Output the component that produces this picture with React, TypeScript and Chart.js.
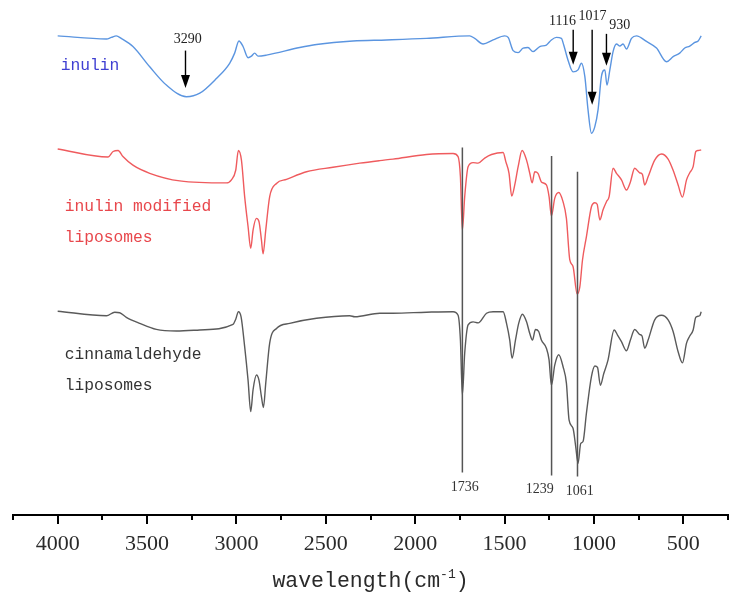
import React, { useEffect, useRef } from 'react';
import { Chart, registerables } from 'chart.js';

Chart.register(...registerables);

// ---- spectra (wavenumber in cm-1, transmittance in arbitrary offset units) ----
const INULIN_X = [4000, 3727, 3700, 3672, 3644, 3579, 3485, 3392, 3280, 3205, 3112, 3038, 3010, 2986, 2963, 2935, 2916, 2898, 2879, 2832, 2646, 2552, 2348, 2161, 1937, 1695, 1667, 1620, 1564, 1499, 1480, 1452, 1424, 1396, 1369, 1341, 1303, 1266, 1238, 1210, 1182, 1169, 1145, 1117, 1089, 1070, 1051, 1033, 1014, 995, 977, 958, 939, 927, 911, 893, 874, 855, 837, 818, 790, 762, 706, 650, 594, 557, 520, 492, 464, 436, 417, 400];
const INULIN_Y = [94.5, 93.9, 94.2, 94.5, 94.0, 92.4, 88.4, 84.8, 82.5, 83.2, 86.1, 89.1, 91.1, 93.5, 92.4, 90.2, 90.5, 91.1, 90.5, 90.7, 92.2, 92.8, 93.5, 93.7, 94.0, 94.5, 94.0, 92.9, 93.7, 94.5, 94.2, 91.6, 91.2, 92.1, 92.2, 91.4, 92.4, 92.7, 93.7, 94.2, 94.0, 92.7, 89.7, 87.4, 87.8, 89.1, 86.5, 79.9, 75.3, 76.6, 79.9, 86.5, 87.8, 84.8, 87.8, 91.4, 92.9, 92.5, 92.9, 91.9, 94.0, 94.5, 93.4, 92.1, 89.4, 90.4, 91.1, 92.1, 92.5, 93.2, 93.5, 94.5];

const MODIFIED_X = [4000, 3718, 3690, 3662, 3635, 3579, 3485, 3317, 3056, 3028, 3004, 2989, 2972, 2954, 2935, 2920, 2907, 2888, 2874, 2860, 2851, 2836, 2814, 2776, 2720, 2608, 2460, 2310, 2198, 2124, 1937, 1788, 1760, 1747, 1736, 1723, 1704, 1676, 1648, 1611, 1573, 1508, 1493, 1475, 1460, 1443, 1424, 1402, 1377, 1359, 1346, 1331, 1313, 1294, 1266, 1251, 1238, 1219, 1197, 1173, 1154, 1135, 1117, 1094, 1079, 1064, 1042, 1014, 995, 982, 967, 949, 930, 915, 893, 874, 846, 818, 796, 772, 744, 729, 716, 697, 660, 622, 585, 557, 529, 505, 482, 464, 445, 430, 417, 400];
const MODIFIED_Y = [72.2, 70.6, 71.7, 71.9, 70.7, 69.0, 67.4, 65.9, 65.5, 66.1, 68.0, 71.9, 70.0, 62.8, 56.9, 52.6, 56.2, 58.5, 57.9, 54.2, 51.5, 56.2, 62.8, 65.4, 66.2, 67.7, 68.6, 69.4, 69.9, 70.2, 71.1, 71.3, 70.7, 66.7, 56.2, 62.8, 68.7, 69.5, 69.4, 70.4, 71.1, 71.5, 69.7, 67.4, 62.9, 65.1, 68.7, 71.9, 70.0, 67.4, 65.5, 67.7, 67.4, 65.7, 65.1, 62.8, 59.0, 62.5, 63.6, 61.8, 58.5, 50.3, 49.0, 43.6, 45.0, 50.3, 54.9, 60.8, 61.6, 61.3, 58.2, 60.2, 61.8, 62.8, 68.4, 67.4, 66.1, 64.1, 65.7, 68.4, 67.5, 67.2, 65.1, 66.7, 70.0, 71.2, 70.2, 68.0, 65.1, 62.7, 66.1, 67.5, 68.7, 71.7, 71.9, 72.0];

const CINNAMALDEHYDE_X = [4000, 3727, 3681, 3653, 3616, 3541, 3448, 3336, 3205, 3019, 3004, 2989, 2974, 2954, 2935, 2920, 2907, 2888, 2874, 2860, 2849, 2836, 2814, 2776, 2702, 2552, 2366, 2338, 2198, 2124, 1937, 1788, 1760, 1747, 1736, 1723, 1704, 1676, 1648, 1601, 1564, 1508, 1489, 1471, 1458, 1439, 1421, 1400, 1377, 1359, 1344, 1327, 1309, 1294, 1266, 1251, 1238, 1219, 1197, 1173, 1154, 1139, 1117, 1102, 1089, 1074, 1061, 1042, 1014, 995, 980, 964, 945, 921, 887, 868, 846, 818, 796, 772, 744, 731, 716, 697, 660, 622, 585, 557, 529, 505, 482, 464, 445, 430, 408, 400];
const CINNAMALDEHYDE_Y = [40.2, 39.3, 40.0, 39.9, 39.0, 37.8, 36.6, 36.3, 36.5, 37.6, 38.6, 40.1, 39.1, 33.2, 26.6, 20.4, 24.7, 27.6, 26.6, 23.3, 21.2, 26.0, 33.9, 36.8, 37.8, 38.8, 39.3, 39.1, 39.8, 39.8, 40.0, 40.1, 39.4, 34.5, 23.7, 31.9, 37.5, 38.1, 37.9, 39.8, 40.1, 40.1, 37.8, 34.5, 30.9, 34.5, 37.8, 39.6, 38.1, 35.8, 34.5, 36.6, 36.2, 34.5, 32.9, 30.6, 25.6, 29.6, 31.6, 29.3, 26.0, 18.7, 17.1, 13.5, 10.2, 14.1, 14.5, 20.1, 27.3, 29.4, 29.1, 25.6, 27.9, 30.6, 36.5, 35.5, 34.2, 32.4, 34.5, 36.6, 35.6, 35.3, 32.9, 34.5, 38.5, 39.4, 38.5, 36.2, 32.2, 30.0, 33.9, 35.3, 36.5, 39.0, 39.3, 40.1];

// ---- axis ----
const X_MIN = 250;
const X_MAX = 4250;
const X_STEP = 250;
const X_LABEL_STEP = 500;
const AXIS_TITLE = 'wavelength(cm';
const AXIS_TITLE_SUP = '-1';
const AXIS_TITLE_END = ')';

// ---- series labels ----
const SERIES_COLORS = ['#5b95e0', '#ef5b5e', '#5a5a5a'];
const SERIES_TEXT_COLORS = ['#3f3fd2', '#e8474c', '#333333'];
const SERIES_LABEL_LINES = [['inulin'], ['inulin modified', 'liposomes'], ['cinnamaldehyde', 'liposomes']];
const SERIES_LABEL_X = [3983, 3961, 3961];
const SERIES_LABEL_Y = [[88.6], [60.9, 54.6], [31.6, 25.6]];

// ---- arrow annotations (inulin peaks) ----
const ARROW_LABELS = ['3290', '1116', '1017', '930'];
const ARROW_X = [3285, 1116, 1010, 930];
const ARROW_TOP = [91.6, 95.7, 95.7, 94.9];
const ARROW_TIP = [84.2, 88.8, 80.9, 88.6];
const ARROW_LABEL_X = [3273, 1176, 1008, 855];
const ARROW_LABEL_Y = [93.9, 97.3, 98.4, 96.6];

// ---- vertical peak lines ----
const PEAK_LINE_LABELS = ['1736', '1239', '1061'];
const PEAK_LINE_X = [1736, 1237, 1092];
const PEAK_LINE_TOP = [72.5, 70.8, 67.7];
const PEAK_LINE_BOTTOM = [8.4, 7.8, 7.6];
const PEAK_LABEL_X = [1723, 1303, 1079];
const PEAK_LABEL_Y = [5.4, 5.1, 4.7];

const MONO = "'Liberation Mono', 'DejaVu Sans Mono', monospace";
const SERIF = "'Liberation Serif', 'DejaVu Serif', serif";

const toPoints = (xs: number[], ys: number[]) => xs.map((x, i) => ({ x, y: ys[i] }));

const annotationPlugin = {
  id: 'ftirAnnotations',
  afterDraw(chart: any) {
    const ctx = chart.ctx;
    const xs = chart.scales.x;
    const ys = chart.scales.y;
    const area = chart.chartArea;
    ctx.save();

    // major (8px) and minor (5px) ticks
    ctx.strokeStyle = '#000';
    ctx.lineWidth = 2;
    for (let v = X_MIN; v <= X_MAX; v += X_STEP) {
      const major = v % X_LABEL_STEP === 0;
      const px = Math.round(xs.getPixelForValue(v));
      ctx.beginPath();
      ctx.moveTo(px, area.bottom);
      ctx.lineTo(px, area.bottom + (major ? 9 : 5));
      ctx.stroke();
    }

    // axis title with superscript
    ctx.fillStyle = '#2a2a2a';
    ctx.textBaseline = 'alphabetic';
    ctx.textAlign = 'left';
    const mainFont = `21.5px ${MONO}`;
    const supFont = `13px ${MONO}`;
    ctx.font = mainFont;
    const w1 = ctx.measureText(AXIS_TITLE).width;
    const w3 = ctx.measureText(AXIS_TITLE_END).width;
    ctx.font = supFont;
    const w2 = ctx.measureText(AXIS_TITLE_SUP).width;
    const total = w1 + w2 + w3;
    const cx = (area.left + area.right) / 2;
    const base = area.bottom + 72;
    let tx = cx - total / 2;
    ctx.font = mainFont;
    ctx.fillText(AXIS_TITLE, tx, base);
    tx += w1;
    ctx.font = supFont;
    ctx.fillText(AXIS_TITLE_SUP, tx, base - 9);
    tx += w2;
    ctx.font = mainFont;
    ctx.fillText(AXIS_TITLE_END, tx, base);

    // series labels
    ctx.font = `16.3px ${MONO}`;
    ctx.textBaseline = 'middle';
    ctx.textAlign = 'left';
    SERIES_LABEL_LINES.forEach((lines, i) => {
      ctx.fillStyle = SERIES_TEXT_COLORS[i];
      lines.forEach((t, j) => {
        ctx.fillText(t, xs.getPixelForValue(SERIES_LABEL_X[i]), ys.getPixelForValue(SERIES_LABEL_Y[i][j]));
      });
    });

    // vertical peak lines
    ctx.strokeStyle = '#555';
    ctx.lineWidth = 1.5;
    PEAK_LINE_X.forEach((v, i) => {
      const px = xs.getPixelForValue(v);
      ctx.beginPath();
      ctx.moveTo(px, ys.getPixelForValue(PEAK_LINE_TOP[i]));
      ctx.lineTo(px, ys.getPixelForValue(PEAK_LINE_BOTTOM[i]));
      ctx.stroke();
    });
    ctx.font = `14px ${SERIF}`;
    ctx.fillStyle = '#333';
    ctx.textAlign = 'center';
    PEAK_LINE_LABELS.forEach((t, i) => {
      ctx.fillText(t, xs.getPixelForValue(PEAK_LABEL_X[i]), ys.getPixelForValue(PEAK_LABEL_Y[i]));
    });

    // arrows
    ctx.strokeStyle = '#000';
    ctx.fillStyle = '#000';
    ctx.lineWidth = 1.4;
    ARROW_X.forEach((v, i) => {
      const px = xs.getPixelForValue(v);
      const top = ys.getPixelForValue(ARROW_TOP[i]);
      const tip = ys.getPixelForValue(ARROW_TIP[i]);
      ctx.beginPath();
      ctx.moveTo(px, top);
      ctx.lineTo(px, tip - 10);
      ctx.stroke();
      ctx.beginPath();
      ctx.moveTo(px - 4.5, tip - 13);
      ctx.lineTo(px + 4.5, tip - 13);
      ctx.lineTo(px, tip);
      ctx.closePath();
      ctx.fill();
    });
    ctx.font = `14px ${SERIF}`;
    ctx.fillStyle = '#222';
    ARROW_LABELS.forEach((t, i) => {
      ctx.fillText(t, xs.getPixelForValue(ARROW_LABEL_X[i]), ys.getPixelForValue(ARROW_LABEL_Y[i]));
    });

    ctx.restore();
  },
};

export default function App() {
  const ref = useRef<HTMLCanvasElement | null>(null);

  useEffect(() => {
    if (!ref.current) return;
    const chart = new Chart(ref.current, {
      type: 'line',
      data: {
        datasets: [
          { label: 'inulin', data: toPoints(INULIN_X, INULIN_Y), borderColor: SERIES_COLORS[0] },
          { label: 'inulin modified liposomes', data: toPoints(MODIFIED_X, MODIFIED_Y), borderColor: SERIES_COLORS[1] },
          { label: 'cinnamaldehyde liposomes', data: toPoints(CINNAMALDEHYDE_X, CINNAMALDEHYDE_Y), borderColor: SERIES_COLORS[2] },
        ].map((d) => ({
          ...d,
          borderWidth: 1.4,
          pointRadius: 0,
          cubicInterpolationMode: 'monotone' as const,
          fill: false,
        })),
      },
      options: {
        responsive: false,
        animation: false,
        devicePixelRatio: 1,
        layout: { padding: { left: 5, right: 6, top: 0, bottom: 0 } },
        plugins: { legend: { display: false }, tooltip: { enabled: false } },
        scales: {
          x: {
            type: 'linear',
            reverse: true,
            min: X_MIN,
            max: X_MAX,
            afterFit: (scale: any) => {
              scale.height = 80;
            },
            border: { display: true, color: '#000', width: 2 },
            grid: {
              drawOnChartArea: false,
              tickLength: 11,
              tickWidth: 2,
              tickColor: 'rgba(0,0,0,0)',
            },
            ticks: {
              stepSize: X_STEP,
              autoSkip: false,
              maxRotation: 0,
              padding: 5,
              color: '#2a2a2a',
              font: { family: SERIF, size: 22 },
              callback: (v: any) => (Number(v) % X_LABEL_STEP === 0 ? String(v) : ''),
            },
          },
          y: { display: false, min: 0, max: 100 },
        },
      },
      plugins: [annotationPlugin],
    });
    return () => chart.destroy();
  }, []);

  return (
    <div style={{ width: 726, height: 587 }}>
      <canvas ref={ref} width={726} height={587} style={{ display: 'block' }} />
    </div>
  );
}
